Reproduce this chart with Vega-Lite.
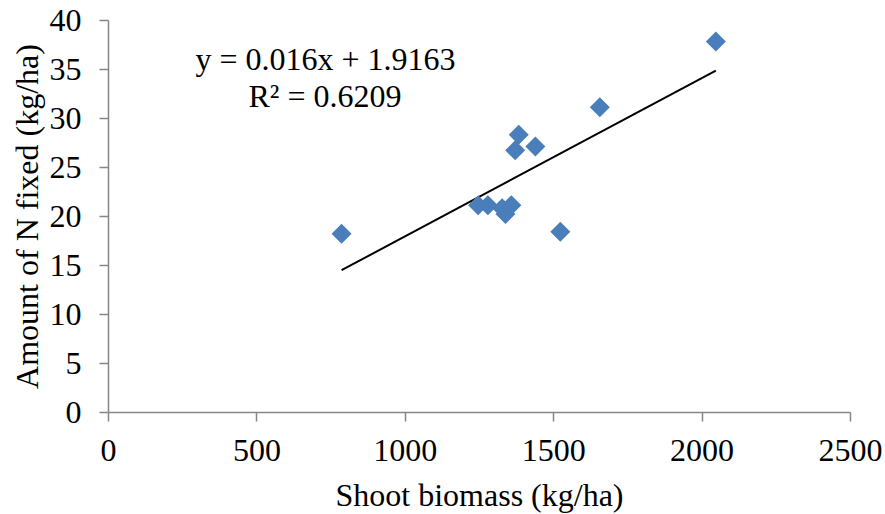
{
  "$schema": "https://vega.github.io/schema/vega-lite/v6.json",
  "autosize": "none",
  "width": 742,
  "height": 392,
  "padding": {"left": 108, "top": 20, "right": 35, "bottom": 102},
  "background": "white",
  "config": {
    "view": {"stroke": null},
    "font": "Liberation Serif",
    "axis": {
      "grid": false,
      "domainColor": "#868686",
      "tickColor": "#868686",
      "domainWidth": 1.5,
      "tickWidth": 1.5,
      "tickSize": 9,
      "labelFont": "Liberation Serif",
      "labelFontSize": 32,
      "labelColor": "#000000",
      "labelFlush": false,
      "labelOverlap": false,
      "titleFont": "Liberation Serif",
      "titleFontSize": 32,
      "titleFontWeight": "normal",
      "titleColor": "#000000"
    }
  },
  "datasets": {
    "points": [
      {"biomass": 787, "nfixed": 18.2},
      {"biomass": 2048, "nfixed": 37.8},
      {"biomass": 1657, "nfixed": 31.1},
      {"biomass": 1384, "nfixed": 28.3},
      {"biomass": 1372, "nfixed": 26.7},
      {"biomass": 1440, "nfixed": 27.1},
      {"biomass": 1247, "nfixed": 21.1},
      {"biomass": 1280, "nfixed": 21.1},
      {"biomass": 1328, "nfixed": 20.8},
      {"biomass": 1339, "nfixed": 20.2},
      {"biomass": 1359, "nfixed": 21.1},
      {"biomass": 1524, "nfixed": 18.4}
    ],
    "labels": [
      {"x": 733, "y": 35.9, "text": "y = 0.016x + 1.9163"},
      {"x": 731, "y": 32.1, "text": "R² = 0.6209"}
    ]
  },
  "layer": [
    {
      "data": {"name": "points"},
      "transform": [{"regression": "nfixed", "on": "biomass"}],
      "mark": {"type": "line", "color": "#000000", "strokeWidth": 2},
      "encoding": {
        "x": {"field": "biomass", "type": "quantitative"},
        "y": {"field": "nfixed", "type": "quantitative"}
      }
    },
    {
      "data": {"name": "points"},
      "mark": {"type": "point", "shape": "diamond", "filled": true, "size": 400, "color": "#4A7EBB", "opacity": 1},
      "encoding": {
        "x": {
          "field": "biomass", "type": "quantitative",
          "scale": {"domain": [0, 2500], "nice": false, "zero": true},
          "axis": {"values": [0, 500, 1000, 1500, 2000, 2500], "format": "d", "title": "Shoot biomass (kg/ha)", "labelPadding": 14, "titlePadding": 14}
        },
        "y": {
          "field": "nfixed", "type": "quantitative",
          "scale": {"domain": [0, 40], "nice": false},
          "axis": {"values": [0, 5, 10, 15, 20, 25, 30, 35, 40], "format": "d", "title": "Amount of N fixed (kg/ha)", "labelPadding": 18, "titlePadding": 5}
        }
      }
    },
    {
      "data": {"name": "labels"},
      "mark": {"type": "text", "font": "Liberation Serif", "fontSize": 32, "align": "center", "baseline": "middle", "color": "#000000"},
      "encoding": {
        "x": {"field": "x", "type": "quantitative"},
        "y": {"field": "y", "type": "quantitative"},
        "text": {"field": "text"}
      }
    }
  ]
}
